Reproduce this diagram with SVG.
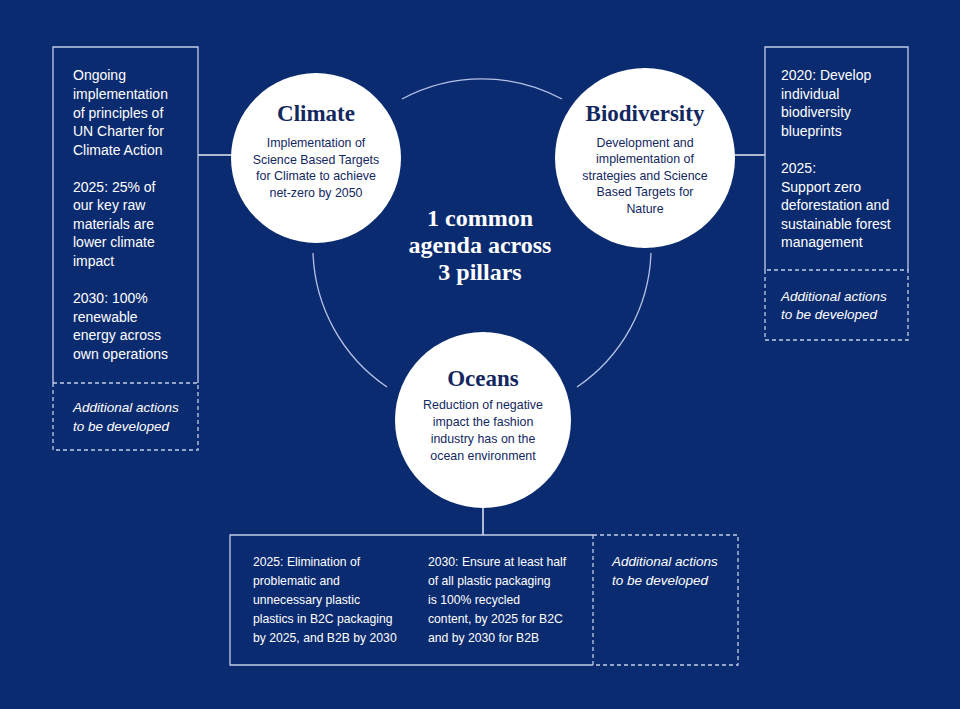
<svg xmlns="http://www.w3.org/2000/svg" width="960" height="709" viewBox="0 0 960 709">
<style>
.bg{fill:#0b2b70}
.circ{fill:#ffffff}
.ring{fill:none;stroke:#b4c2e6;stroke-width:1.3}
.ln{stroke:#e6eaf5;stroke-width:1.5;fill:none}
.box{fill:none;stroke:#c3cde6;stroke-width:1.3}
.dash{fill:none;stroke:#c3cde6;stroke-width:1.3;stroke-dasharray:4 3}
.t{font-family:"Liberation Sans",Arial,sans-serif;font-size:14px;fill:#ffffff}
.it{font-family:"Liberation Sans",Arial,sans-serif;font-size:13.5px;font-style:italic;fill:#ffffff}
.bt{font-family:"Liberation Sans",Arial,sans-serif;font-size:12.2px;fill:#ffffff}
.ttl{font-family:"Liberation Serif","Times New Roman",serif;font-size:23px;font-weight:bold;fill:#13275f;text-anchor:middle}
.cb{font-family:"Liberation Sans",Arial,sans-serif;font-size:12.4px;fill:#13275f;text-anchor:middle}
.ctr{font-family:"Liberation Serif","Times New Roman",serif;font-size:24px;font-weight:bold;fill:#ffffff;text-anchor:middle}
</style>
<rect class="bg" x="0" y="0" width="960" height="709"/>
<g id="connectors">
<path class="ring" d="M402,99 A169,169 0 0,1 562,99"/>
<path class="ring" d="M313,253 A169,169 0 0,0 387,387"/>
<path class="ring" d="M651,253 A169,169 0 0,1 577,387"/>
<line class="ln" x1="198" y1="155" x2="235" y2="155"/>
<line class="ln" x1="730" y1="155" x2="765" y2="155"/>
<line class="ln" x1="483" y1="505" x2="483" y2="535"/>
</g>
<g id="center-label">
<text class="ctr" x="480" y="226">1 common</text>
<text class="ctr" x="480" y="253">agenda across</text>
<text class="ctr" x="480" y="280">3 pillars</text>
</g>
<g id="climate">
<circle class="circ" cx="316" cy="158" r="85"/>
<text class="ttl" x="316" y="121">Climate</text>
<text class="cb" x="316" y="147">Implementation of</text>
<text class="cb" x="316" y="164">Science Based Targets</text>
<text class="cb" x="316" y="180">for Climate to achieve</text>
<text class="cb" x="316" y="197">net-zero by 2050</text>
</g>
<g id="biodiversity">
<circle class="circ" cx="645" cy="158" r="90"/>
<text class="ttl" x="645" y="121">Biodiversity</text>
<text class="cb" x="645" y="147">Development and</text>
<text class="cb" x="645" y="163">implementation of</text>
<text class="cb" x="645" y="180">strategies and Science</text>
<text class="cb" x="645" y="196">Based Targets for</text>
<text class="cb" x="645" y="213">Nature</text>
</g>
<g id="oceans">
<circle class="circ" cx="483" cy="420" r="88"/>
<text class="ttl" x="483" y="386">Oceans</text>
<text class="cb" x="483" y="409">Reduction of negative</text>
<text class="cb" x="483" y="426">impact the fashion</text>
<text class="cb" x="483" y="443">industry has on the</text>
<text class="cb" x="483" y="460">ocean environment</text>
</g>
<g id="climate-actions">
<polyline class="box" points="53,383 53,47 198,47 198,383"/>
<polyline class="dash" points="53,383 53,450 198,450 198,383 53,383"/>
<text class="t" x="73" y="80">Ongoing</text>
<text class="t" x="73" y="99">implementation</text>
<text class="t" x="73" y="118">of principles of</text>
<text class="t" x="73" y="136">UN Charter for</text>
<text class="t" x="73" y="155">Climate Action</text>
<text class="t" x="73" y="192">2025: 25% of</text>
<text class="t" x="73" y="210">our key raw</text>
<text class="t" x="73" y="229">materials are</text>
<text class="t" x="73" y="247">lower climate</text>
<text class="t" x="73" y="266">impact</text>
<text class="t" x="73" y="303">2030: 100%</text>
<text class="t" x="73" y="322">renewable</text>
<text class="t" x="73" y="340">energy across</text>
<text class="t" x="73" y="359">own operations</text>
<text class="it" x="73" y="412">Additional actions</text>
<text class="it" x="73" y="431">to be developed</text>
</g>
<g id="biodiversity-actions">
<polyline class="box" points="765,270 765,47 908,47 908,270"/>
<polyline class="dash" points="765,270 765,340 908,340 908,270 765,270"/>
<text class="t" x="781" y="80">2020: Develop</text>
<text class="t" x="781" y="99">individual</text>
<text class="t" x="781" y="117">biodiversity</text>
<text class="t" x="781" y="136">blueprints</text>
<text class="t" x="781" y="173">2025:</text>
<text class="t" x="781" y="192">Support zero</text>
<text class="t" x="781" y="210">deforestation and</text>
<text class="t" x="781" y="229">sustainable forest</text>
<text class="t" x="781" y="247">management</text>
<text class="it" x="781" y="301">Additional actions</text>
<text class="it" x="781" y="319">to be developed</text>
</g>
<g id="oceans-actions">
<polyline class="box" points="593,535 230,535 230,665 593,665"/>
<polyline class="dash" points="593,535 738,535 738,665 593,665 593,535"/>
<text class="bt" x="253" y="566">2025: Elimination of</text>
<text class="bt" x="253" y="585">problematic and</text>
<text class="bt" x="253" y="604">unnecessary plastic</text>
<text class="bt" x="253" y="623">plastics in B2C packaging</text>
<text class="bt" x="253" y="642">by 2025, and B2B by 2030</text>
<text class="bt" x="428" y="566">2030: Ensure at least half</text>
<text class="bt" x="428" y="585">of all plastic packaging</text>
<text class="bt" x="428" y="604">is 100% recycled</text>
<text class="bt" x="428" y="623">content, by 2025 for B2C</text>
<text class="bt" x="428" y="642">and by 2030 for B2B</text>
<text class="it" x="612" y="566">Additional actions</text>
<text class="it" x="612" y="585">to be developed</text>
</g>
</svg>
